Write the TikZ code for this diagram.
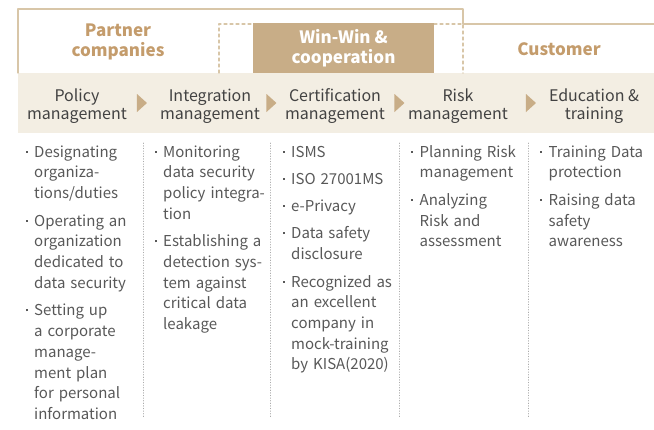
\documentclass[tikz,border=0pt]{standalone}
\usepackage{fontspec}
\setmainfont{Noto Sans CJK KR}
\usetikzlibrary{shapes.geometric}

\definecolor{goldline}{HTML}{D8C6A8}
\definecolor{goldfill}{HTML}{C8AD87}
\definecolor{goldtext}{HTML}{C49C6C}
\definecolor{bandfill}{HTML}{F3EEE3}
\definecolor{headtext}{HTML}{424242}
\definecolor{bodytext}{HTML}{585858}
\definecolor{sepline}{HTML}{AAAAAA}

% bullet and hanging indent for the item lists
\newcommand{\bul}{\makebox[8.5pt][l]{\raisebox{0.3em}{\rule{2pt}{2pt}}}}
\newcommand{\ind}{\hspace*{8.5pt}}

\begin{document}
\begin{tikzpicture}[x=1pt, y=-1pt, line cap=round, line join=round]

% ---------------- styles ----------------
\tikzset{
  frame/.style   ={draw=goldline, line width=1.1pt},
  dframe/.style  ={draw=goldline, line width=1.1pt, dash pattern=on 3pt off 3pt},
  side/.style    ={text=goldtext, font=\fontsize{17}{20}\selectfont\bfseries, align=center},
  head/.style    ={text=headtext, font=\fontsize{16}{18}\selectfont, align=center},
  body/.style    ={text=bodytext, font=\fontsize{15}{20.7}\selectfont, align=left,
                   text width=125pt, inner sep=0pt, anchor=base west},
  tri/.style     ={isosceles triangle, fill=goldfill, inner sep=0pt,
                   minimum height=10pt, minimum width=18pt, isosceles triangle stretches},
  sep/.style     ={draw=sepline, line width=0.6pt, dotted}
}

% ---------------- parameters ----------------
\def\yTop{9}      % top of partner frame
\def\yMid{24}     % top of win-win / customer frame
\def\yBand{73}    % top of header band
\def\yBandB{133}  % bottom of header band
\def\yHead{106}   % header centre line
\def\yText{157}   % first baseline of the lists

\useasboundingbox (0,0) rectangle (654,429);

% ---------------- header band ----------------
\fill[bandfill] (18,\yBand) rectangle (654,\yBandB);

% ---------------- frames ----------------
\path[frame] (18,\yBand) -- (18,\yTop) -- (463,\yTop) -- (463,\yMid) -- (654,\yMid);
\path[dframe] (219,\yBand) -- (219,\yMid) -- (253,\yMid);
\path[dframe] (434,\yMid) -- (463,\yMid) -- (463,\yBand);
\fill[goldfill] (253,23) rectangle (434,\yBand);

\node[side] (partner) at (118,42) {Partner\\companies};
\node[side, text=white] (winwin) at (343.5,48) {Win-Win \&\\cooperation};
\node[side] (customer) at (559,49) {Customer};

% ---------------- step headers ----------------
\node[head] (policy) at (77,\yHead)  {Policy\\management};
\node[head] (integ)  at (210,\yHead) {Integration\\management};
\node[head] (cert)   at (335,\yHead) {Certification\\management};
\node[head] (risk)   at (458,\yHead) {Risk\\management};
\node[head] (edu)    at (594,\yHead) {Education \&\\training};

\node[tri] (t1) at (141,103) {};
\node[tri] (t2) at (270.5,103) {};
\node[tri] (t3) at (398.5,103) {};
\node[tri] (t4) at (530,103) {};

% ---------------- separators ----------------
\foreach \x in {143,270,399,528}
  \path[sep] (\x,143) -- (\x,418);

% ---------------- item lists ----------------
\node[body] (policyList) at (25.5,\yText) {%
  \bul Designating\\ \ind organiza-\\ \ind tions/duties\\[7pt]
  \bul Operating an\\ \ind organization\\ \ind dedicated to\\ \ind data security\\[7pt]
  \bul Setting up\\ \ind a corporate\\ \ind manage-\\ \ind ment plan\\ \ind for personal\\ \ind information};

\node[body] (integList) at (154.5,\yText) {%
  \bul Monitoring\\ \ind data security\\ \ind policy integra-\\ \ind tion\\[7pt]
  \bul Establishing a\\ \ind detection sys-\\ \ind tem against\\ \ind critical data\\ \ind leakage};

\node[body] (certList) at (282.5,\yText) {%
  \bul ISMS\\[6.5pt]
  \bul ISO 27001MS\\[6.5pt]
  \bul e-Privacy\\[6.5pt]
  \bul Data safety\\ \ind disclosure\\[7pt]
  \bul Recognized as\\ \ind an excellent\\ \ind company in\\ \ind mock-training\\ \ind by KISA(2020)};

\node[body] (riskList) at (411,\yText) {%
  \bul Planning Risk\\ \ind management\\[7pt]
  \bul Analyzing\\ \ind Risk and\\ \ind assessment};

\node[body] (eduList) at (540,\yText) {%
  \bul Training Data\\ \ind protection\\[7pt]
  \bul Raising data\\ \ind safety\\ \ind awareness};

\end{tikzpicture}
\end{document}
